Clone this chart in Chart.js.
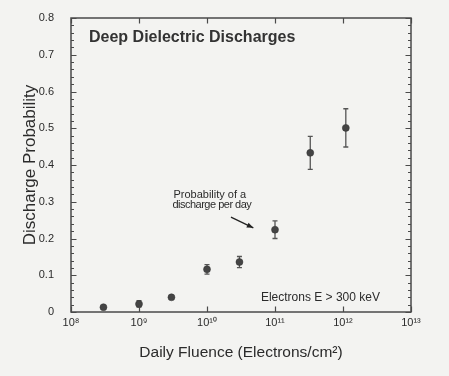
<!DOCTYPE html>
<html><head><meta charset="utf-8">
<script src="https://cdn.jsdelivr.net/npm/chart.js@4/dist/chart.umd.min.js"></script>
<style>html,body{margin:0;padding:0;background:#f3f3f1;}canvas{display:block}</style>
</head><body>
<canvas id="c" width="449" height="376"></canvas>
<script>
// ---- data ----
const fluence     = [3e8, 1e9, 3e9, 1e10, 3e10, 1e11, 3.3e11, 1.1e12];
const probability = [0.013, 0.022, 0.040, 0.116, 0.136, 0.224, 0.433, 0.501];
const errorBar    = [0.004, 0.009, 0.000, 0.013, 0.015, 0.024, 0.045, 0.052];
const xTickExponents = [8, 9, 10, 11, 12, 13];
const yTickValues = [0, 0.1, 0.2, 0.3, 0.4, 0.5, 0.6, 0.7, 0.8];
const yTickLabels = ['0', '0.1', '0.2', '0.3', '0.4', '0.5', '0.6', '0.7', '0.8'];
const chartTitle = 'Deep Dielectric Discharges';
const xTitle = 'Daily Fluence (Electrons/cm\u00B2)';
const yTitle = 'Discharge Probability';
const noteLines = ['Probability of a', 'discharge per day'];
const energyNote = 'Electrons E > 300 keV';

const SUP = {'0':'\u2070','1':'\u00B9','2':'\u00B2','3':'\u00B3','4':'\u2074','5':'\u2075','6':'\u2076','7':'\u2077','8':'\u2078','9':'\u2079'};
const sup = n => String(n).split('').map(d => SUP[d]).join('');
const FONT = '"Liberation Sans", Arial, Helvetica, sans-serif';
const INK = '#2b2b2b';
const AXIS = '#4a4a4a';

const frame = {
  id: 'frame',
  beforeDatasetsDraw(chart) {
    const {ctx, scales: {x, y}} = chart;
    ctx.save();
    ctx.strokeStyle = '#555';
    ctx.lineWidth = 1.3;
    fluence.forEach((f, i) => {
      const e = errorBar[i];
      if (!e) return;
      const px = x.getPixelForValue(f);
      const t = y.getPixelForValue(probability[i] + e);
      const b = y.getPixelForValue(probability[i] - e);
      ctx.beginPath();
      ctx.moveTo(px, t); ctx.lineTo(px, b);
      ctx.moveTo(px - 2.5, t); ctx.lineTo(px + 2.5, t);
      ctx.moveTo(px - 2.5, b); ctx.lineTo(px + 2.5, b);
      ctx.stroke();
    });
    ctx.restore();
  },
  afterDraw(chart) {
    const {ctx, chartArea: a, scales: {x, y}} = chart;
    ctx.save();
    ctx.strokeStyle = AXIS;
    ctx.lineWidth = 1.5;
    ctx.strokeRect(a.left, a.top, a.right - a.left, a.bottom - a.top);
    ctx.lineWidth = 1.2;
    ctx.beginPath();
    for (let k = 0; k <= 40; k++) {
      const v = k * 0.02;
      const py = Math.round(y.getPixelForValue(v)) + 0.5;
      const len = (k % 5 === 0) ? 5.5 : 3;
      ctx.moveTo(a.left, py); ctx.lineTo(a.left + len, py);
      ctx.moveTo(a.right, py); ctx.lineTo(a.right - len, py);
    }
    xTickExponents.forEach(e => {
      const px = Math.round(x.getPixelForValue(Math.pow(10, e))) + 0.5;
      ctx.moveTo(px, a.bottom); ctx.lineTo(px, a.bottom - 5.5);
      ctx.moveTo(px, a.top); ctx.lineTo(px, a.top + 5.5);
    });
    ctx.stroke();

    ctx.fillStyle = '#333';
    ctx.font = 'bold 16px ' + FONT;
    ctx.textBaseline = 'alphabetic';
    ctx.textAlign = 'left';
    ctx.fillText(chartTitle, a.left + 18, a.top + 24);

    ctx.fillStyle = INK;
    ctx.font = '11px ' + FONT;
    const ax = x.getPixelForValue(3.1e9);
    const ay = y.getPixelForValue(0.310);
    ctx.fillText(noteLines[0], ax + 1, ay);
    ctx.letterSpacing = '-0.5px';
    ctx.fillText(noteLines[1], ax, ay + 10);
    ctx.letterSpacing = '0px';
    const x0 = x.getPixelForValue(2.25e10), y0 = y.getPixelForValue(0.258);
    const x1 = x.getPixelForValue(4.8e10), y1 = y.getPixelForValue(0.229);
    ctx.strokeStyle = '#222';
    ctx.lineWidth = 1.3;
    ctx.beginPath(); ctx.moveTo(x0, y0); ctx.lineTo(x1, y1); ctx.stroke();
    const ang = Math.atan2(y1 - y0, x1 - x0);
    ctx.fillStyle = '#222';
    ctx.beginPath();
    ctx.moveTo(x1, y1);
    ctx.lineTo(x1 - 7 * Math.cos(ang - 0.38), y1 - 7 * Math.sin(ang - 0.38));
    ctx.lineTo(x1 - 7 * Math.cos(ang + 0.38), y1 - 7 * Math.sin(ang + 0.38));
    ctx.closePath(); ctx.fill();

    ctx.fillStyle = INK;
    ctx.font = '12px ' + FONT;
    ctx.fillText(energyNote, x.getPixelForValue(6.2e10), y.getPixelForValue(0.03));
    ctx.restore();
  }
};

new Chart(document.getElementById('c'), {
  type: 'scatter',
  data: {
    datasets: [{
      data: fluence.map((f, i) => ({x: f, y: probability[i]})),
      backgroundColor: '#444',
      borderColor: '#333',
      borderWidth: 0.5,
      pointRadius: 3.5,
      pointHoverRadius: 3.5
    }]
  },
  options: {
    responsive: false,
    animation: false,
    devicePixelRatio: 1,
    layout: {padding: {left: 0, top: 18, right: 38, bottom: 0}},
    plugins: {legend: {display: false}, tooltip: {enabled: false}},
    scales: {
      x: {
        type: 'logarithmic',
        min: 1e8, max: 1e13,
        grid: {display: false, drawTicks: false},
        border: {display: false},
        afterBuildTicks: s => { s.ticks = xTickExponents.map(e => ({value: Math.pow(10, e)})); },
        afterFit: s => { s.height = 64; s.paddingLeft = 0; s.paddingRight = 0; },
        ticks: {
          color: INK, padding: 4, maxRotation: 0, autoSkip: false,
          font: {family: FONT, size: 11},
          callback: v => '10' + sup(Math.round(Math.log10(v)))
        },
        title: {display: true, text: xTitle, color: INK, font: {family: FONT, size: 15.5}, padding: {top: 0, bottom: 14}}
      },
      y: {
        min: 0, max: 0.8,
        grid: {display: false, drawTicks: false},
        border: {display: false},
        afterBuildTicks: s => { s.ticks = yTickValues.map(v => ({value: v})); },
        afterFit: s => { s.width = 71; s.paddingTop = 0; s.paddingBottom = 0; },
        ticks: {
          color: INK, padding: 17, autoSkip: false,
          font: {family: FONT, size: 11},
          callback: (v, i) => yTickLabels[i]
        },
        title: {display: true, text: yTitle, color: INK, font: {family: FONT, size: 17}, padding: {top: 20, bottom: 0}}
      }
    }
  },
  plugins: [frame]
});
</script>
</body></html>
